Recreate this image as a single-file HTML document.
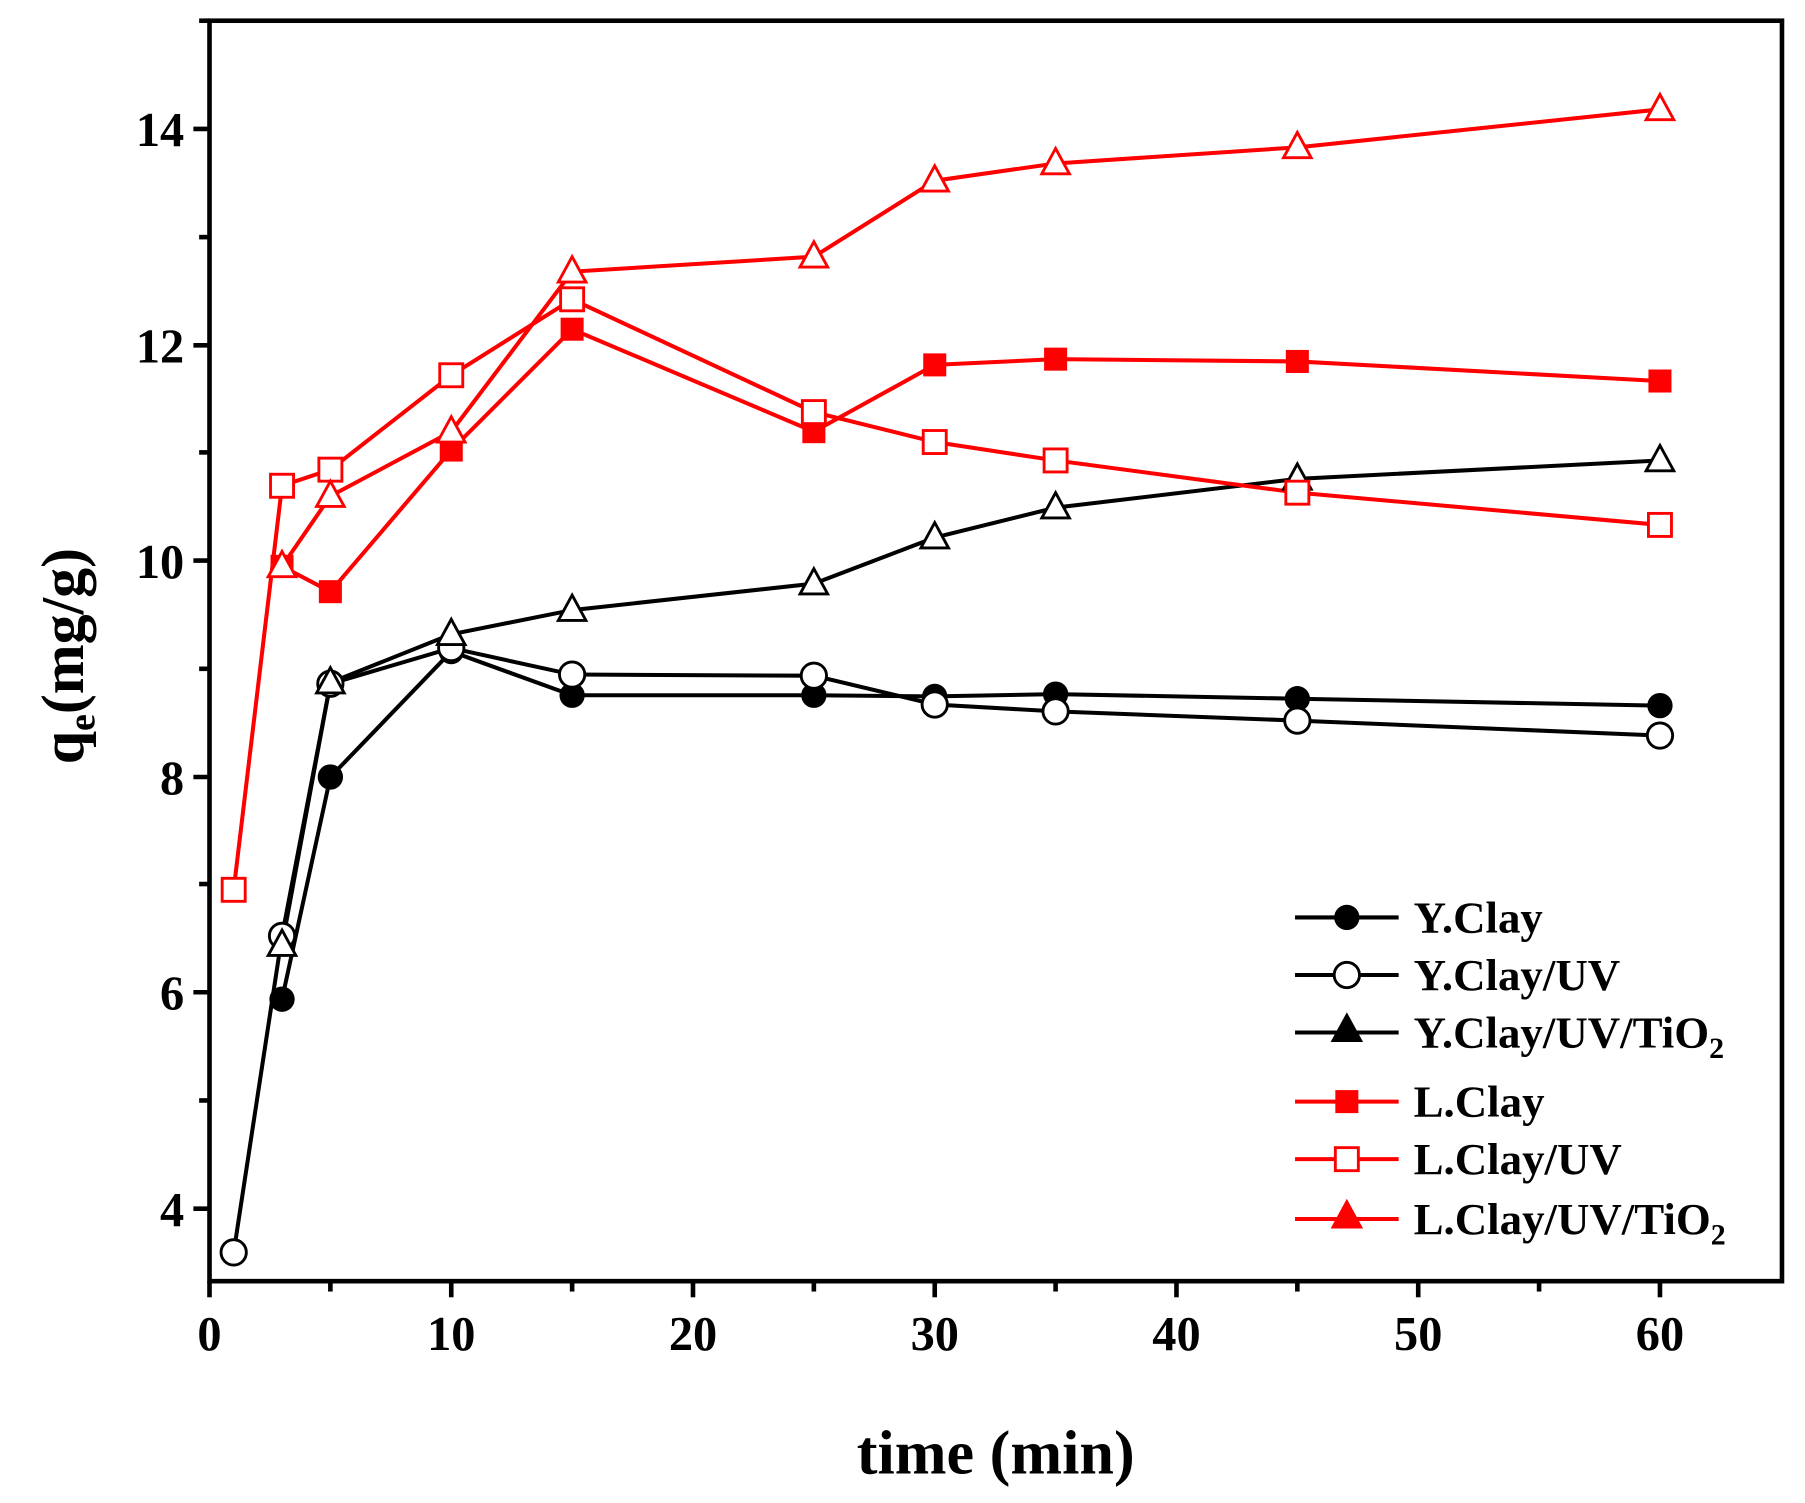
<!DOCTYPE html>
<html><head><style>html,body{margin:0;padding:0;background:#fff}svg{display:block}</style></head>
<body>
<svg width="1805" height="1503" viewBox="0 0 1568 1305.7" preserveAspectRatio="none" xmlns="http://www.w3.org/2000/svg" font-family="Liberation Serif, serif" font-weight="bold">
<rect width="1568" height="1306" fill="#fff"/>
<rect x="182" y="18" width="1366" height="1095" fill="none" stroke="#000" stroke-width="4"/>
<g stroke="#000" stroke-width="4">
<line x1="182" y1="1113" x2="182" y2="1127"/><line x1="392" y1="1113" x2="392" y2="1127"/><line x1="602" y1="1113" x2="602" y2="1127"/><line x1="812" y1="1113" x2="812" y2="1127"/><line x1="1022" y1="1113" x2="1022" y2="1127"/><line x1="1232" y1="1113" x2="1232" y2="1127"/><line x1="1442" y1="1113" x2="1442" y2="1127"/>
<line x1="287" y1="1113" x2="287" y2="1122"/><line x1="497" y1="1113" x2="497" y2="1122"/><line x1="707" y1="1113" x2="707" y2="1122"/><line x1="917" y1="1113" x2="917" y2="1122"/><line x1="1127" y1="1113" x2="1127" y2="1122"/><line x1="1337" y1="1113" x2="1337" y2="1122"/>
<line x1="168" y1="112" x2="182" y2="112"/><line x1="168" y1="300" x2="182" y2="300"/><line x1="168" y1="487" x2="182" y2="487"/><line x1="168" y1="675" x2="182" y2="675"/><line x1="168" y1="862" x2="182" y2="862"/><line x1="168" y1="1050" x2="182" y2="1050"/>
<line x1="173" y1="18" x2="182" y2="18"/><line x1="173" y1="206" x2="182" y2="206"/><line x1="173" y1="393" x2="182" y2="393"/><line x1="173" y1="581" x2="182" y2="581"/><line x1="173" y1="768" x2="182" y2="768"/><line x1="173" y1="956" x2="182" y2="956"/>
</g>
<g font-size="42" text-anchor="middle">
<text x="182" y="1173">0</text><text x="392" y="1173">10</text><text x="602" y="1173">20</text><text x="812" y="1173">30</text><text x="1022" y="1173">40</text><text x="1232" y="1173">50</text><text x="1442" y="1173">60</text>
</g>
<g font-size="42" text-anchor="end">
<text x="160" y="127">14</text><text x="160" y="315">12</text><text x="160" y="502">10</text><text x="160" y="690">8</text><text x="160" y="877">6</text><text x="160" y="1065">4</text>
</g>
<text x="865" y="1280" font-size="54" text-anchor="middle">time (min)</text>
<text transform="translate(72,570) rotate(-90)" font-size="52" text-anchor="middle">q<tspan font-size="33" dy="10">e</tspan><tspan dy="-10">(mg/g)</tspan></text>

<g fill="none" stroke-width="3.5">
<polyline stroke="#000" points="245,868 287,675 392,566 497,604 707,604 812,605 917,603 1127,607 1442,613"/>
<polyline stroke="#000" points="203,1088 245,813 287,594 392,563 497,586 707,587 812,612 917,618 1127,626 1442,639"/>
<polyline stroke="#000" points="245,821 287,593 392,551 497,530 707,507 812,467 917,441 1127,416 1442,400"/>
<polyline stroke="#f00" points="245,492 287,514 392,391 497,286 707,375 812,317 917,312 1127,314 1442,331"/>
<polyline stroke="#f00" points="203,773 245,422 287,408 392,326 497,260 707,358 812,384 917,400 1127,428 1442,456"/>
<polyline stroke="#f00" points="245,492 287,431 392,375 497,236 707,223 812,157 917,142 1127,128 1442,95"/>
</g>
<g fill="#000">
<circle cx="245" cy="868" r="11"/><circle cx="287" cy="675" r="11"/><circle cx="392" cy="566" r="11"/><circle cx="497" cy="604" r="11"/><circle cx="707" cy="604" r="11"/><circle cx="812" cy="605" r="11"/><circle cx="917" cy="603" r="11"/><circle cx="1127" cy="607" r="11"/><circle cx="1442" cy="613" r="11"/>
</g>
<g fill="#fff" stroke="#000" stroke-width="2.5">
<circle cx="203" cy="1088" r="11"/><circle cx="245" cy="813" r="11"/><circle cx="287" cy="594" r="11"/><circle cx="392" cy="563" r="11"/><circle cx="497" cy="586" r="11"/><circle cx="707" cy="587" r="11"/><circle cx="812" cy="612" r="11"/><circle cx="917" cy="618" r="11"/><circle cx="1127" cy="626" r="11"/><circle cx="1442" cy="639" r="11"/>
</g>
<defs>
<path id="tri" d="M0,-13 L12,9 L-12,9 Z"/>
<rect id="sq" x="-10" y="-10" width="20" height="20"/>
</defs>
<g fill="#fff" stroke="#000" stroke-width="2.5">
<use href="#tri" x="245" y="821"/><use href="#tri" x="287" y="593"/><use href="#tri" x="392" y="551"/><use href="#tri" x="497" y="530"/><use href="#tri" x="707" y="507"/><use href="#tri" x="812" y="467"/><use href="#tri" x="917" y="441"/><use href="#tri" x="1127" y="416"/><use href="#tri" x="1442" y="400"/>
</g>
<g fill="#f00">
<use href="#sq" x="245" y="492"/><use href="#sq" x="287" y="514"/><use href="#sq" x="392" y="391"/><use href="#sq" x="497" y="286"/><use href="#sq" x="707" y="375"/><use href="#sq" x="812" y="317"/><use href="#sq" x="917" y="312"/><use href="#sq" x="1127" y="314"/><use href="#sq" x="1442" y="331"/>
</g>
<g fill="#fff" stroke="#f00" stroke-width="2.5">
<use href="#sq" x="203" y="773"/><use href="#sq" x="245" y="422"/><use href="#sq" x="287" y="408"/><use href="#sq" x="392" y="326"/><use href="#sq" x="497" y="260"/><use href="#sq" x="707" y="358"/><use href="#sq" x="812" y="384"/><use href="#sq" x="917" y="400"/><use href="#sq" x="1127" y="428"/><use href="#sq" x="1442" y="456"/>
</g>
<g fill="#fff" stroke="#f00" stroke-width="2.5">
<use href="#tri" x="245" y="492"/><use href="#tri" x="287" y="431"/><use href="#tri" x="392" y="375"/><use href="#tri" x="497" y="236"/><use href="#tri" x="707" y="223"/><use href="#tri" x="812" y="157"/><use href="#tri" x="917" y="142"/><use href="#tri" x="1127" y="128"/><use href="#tri" x="1442" y="95"/>
</g>

<g stroke-width="3.5">
<line x1="1125" y1="797" x2="1215" y2="797" stroke="#000"/>
<line x1="1125" y1="847" x2="1215" y2="847" stroke="#000"/>
<line x1="1125" y1="897" x2="1215" y2="897" stroke="#000"/>
<line x1="1125" y1="957" x2="1215" y2="957" stroke="#f00"/>
<line x1="1125" y1="1007" x2="1215" y2="1007" stroke="#f00"/>
<line x1="1125" y1="1059" x2="1215" y2="1059" stroke="#f00"/>
</g>
<circle cx="1170" cy="797" r="11" fill="#000"/>
<circle cx="1170" cy="847" r="11" fill="#fff" stroke="#000" stroke-width="2.5"/>
<use href="#tri" x="1170" y="895" fill="#000" stroke="#000" stroke-width="2.5"/>
<use href="#sq" x="1170" y="957" fill="#f00"/>
<use href="#sq" x="1170" y="1007" fill="#fff" stroke="#f00" stroke-width="2.5"/>
<use href="#tri" x="1170" y="1057" fill="#f00" stroke="#f00" stroke-width="2.5"/>
<g font-size="39">
<text x="1228" y="810">Y.Clay</text>
<text x="1228" y="860">Y.Clay/UV</text>
<text x="1228" y="910">Y.Clay/UV/TiO<tspan font-size="26" dy="9">2</tspan></text>
<text x="1228" y="970">L.Clay</text>
<text x="1228" y="1020">L.Clay/UV</text>
<text x="1228" y="1072">L.Clay/UV/TiO<tspan font-size="26" dy="9">2</tspan></text>
</g>
</svg>
</body></html>
